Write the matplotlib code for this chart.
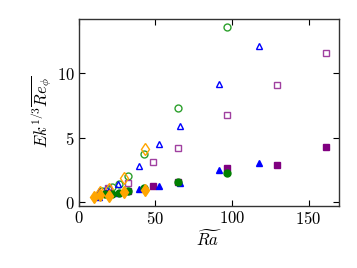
import matplotlib
matplotlib.use("Agg")
import matplotlib.pyplot as plt

plt.rcParams['mathtext.fontset'] = 'cm'
plt.rcParams['font.family'] = 'serif'
plt.rcParams['font.serif'] = ['cmr10', 'DejaVu Serif']
plt.rcParams['axes.formatter.use_mathtext'] = True

# Open symbols (upper branch)
ra_circ_open = [14.8, 18.7, 21.5, 25.9, 32.2, 42.6, 64.6, 96.5]
re_circ_open = [0.90, 1.03, 1.21, 1.40, 2.07, 3.72, 7.29, 13.6]
ra_tri_open = [13.3, 18.0, 25.6, 39.3, 52.6, 65.9, 91.7, 117.8]
re_tri_open = [0.90, 1.10, 1.42, 2.85, 4.50, 5.90, 9.20, 12.1]
ra_sq_open = [19.3, 32.4, 48.7, 64.8, 97.0, 129.1, 161.7]
re_sq_open = [1.09, 1.52, 3.10, 4.19, 6.74, 9.10, 11.6]
ra_dia_open = [13.7, 19.8, 29.6, 43.0]
re_dia_open = [0.83, 1.06, 1.90, 4.13]

# Filled symbols (lower branch)
ra_sq_fill = [19.3, 32.4, 48.7, 64.8, 97.0, 129.1, 161.7]
re_sq_fill = [0.70, 0.88, 1.29, 1.60, 2.66, 2.92, 4.26]
ra_tri_fill = [13.3, 18.0, 25.6, 39.3, 52.6, 65.9, 91.7, 117.8]
re_tri_fill = [0.39, 0.70, 0.75, 1.03, 1.29, 1.52, 2.50, 3.02]
ra_circ_fill = [17.0, 21.5, 25.9, 32.2, 42.6, 64.6, 96.5]
re_circ_fill = [0.65, 0.62, 0.75, 0.88, 1.08, 1.60, 2.30]
ra_dia_fill = [10.0, 13.7, 19.8, 29.6, 43.0]
re_dia_fill = [0.44, 0.57, 0.52, 0.78, 0.96]

fig = plt.figure(figsize=(3.57, 2.68), dpi=100)
ax = fig.add_axes([0.221, 0.2325, 0.729, 0.6965])

ms = 5
ax.plot(ra_circ_open, re_circ_open, 'o', mfc='none', mec='#2ca02c', ms=ms, mew=1.0, ls='none')
ax.plot(ra_tri_open, re_tri_open, '^', mfc='none', mec='blue', ms=ms, mew=1.0, ls='none')
ax.plot(ra_sq_open, re_sq_open, 's', mfc='none', mec='#a040a0', ms=ms, mew=1.0, ls='none')
ax.plot(ra_dia_open, re_dia_open, 'd', mfc='none', mec='orange', ms=ms + 1, mew=1.0, ls='none')

ax.plot(ra_sq_fill, re_sq_fill, 's', color='purple', ms=ms, ls='none')
ax.plot(ra_tri_fill, re_tri_fill, '^', color='blue', ms=ms, ls='none')
ax.plot(ra_circ_fill, re_circ_fill, 'o', color='green', ms=ms, ls='none')
ax.plot(ra_dia_fill, re_dia_fill, 'd', color='orange', ms=ms + 1, ls='none')

ax.set_xlim(0, 170)
ax.set_ylim(-0.26, 14.2)
ax.set_xticks([0, 50, 100, 150])
ax.set_yticks([0, 5, 10])
ax.tick_params(direction='in', top=True, right=True, length=4, width=0.8,
               labelsize=12, pad=3)
for s in ax.spines.values():
    s.set_linewidth(1.0)
    s.set_color('#333333')

ax.set_xlabel(r'$\widetilde{Ra}$', fontsize=12, labelpad=1)
ax.set_ylabel(r'$Ek^{1/3}\overline{Re_\phi}$', fontsize=12, labelpad=2)

fig.savefig('out.png', dpi=100)
